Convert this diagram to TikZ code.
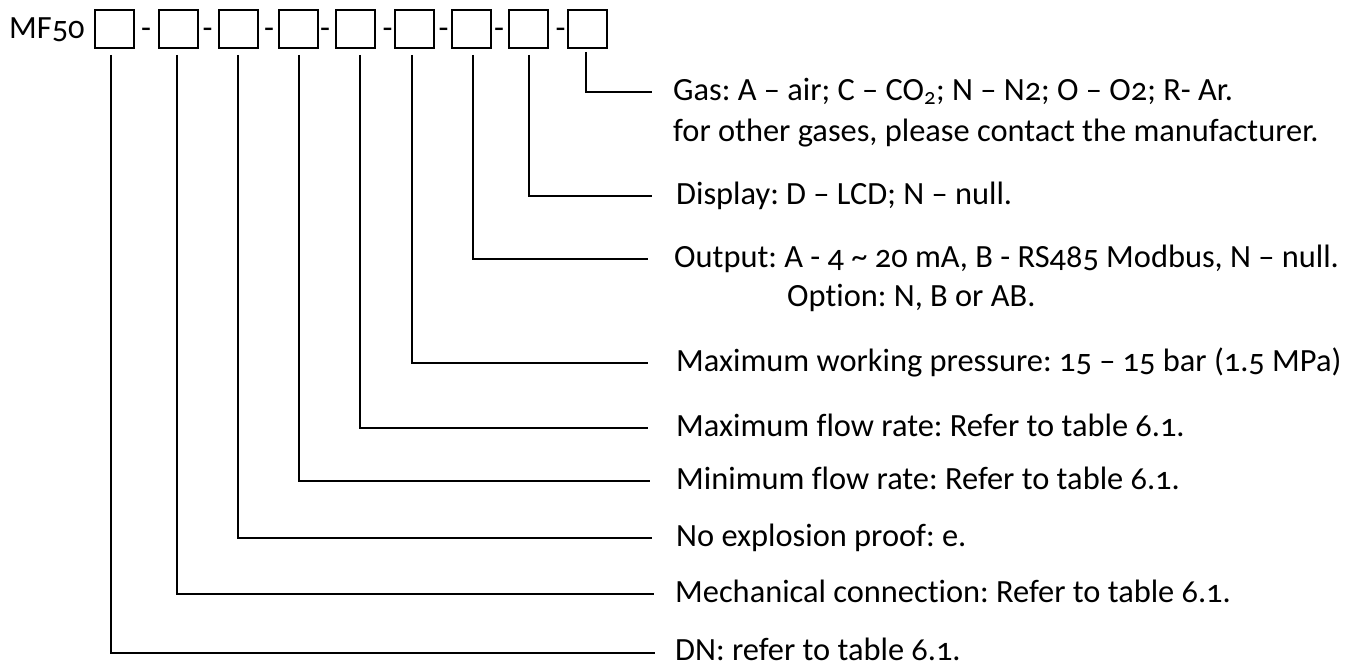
\documentclass[tikz,border=0pt]{standalone}
\usepackage{fontspec}
\setmainfont{Carlito}[Numbers=OldStyle,Ligatures=NoCommon]
\frenchspacing
\begin{document}
\begin{tikzpicture}[x=1pt,y=1pt,
  codebox/.style={draw=black,line width=2pt,minimum width=39pt,minimum height=38pt,inner sep=0pt},
  conn/.style={draw=black,line width=2pt},
  lbl/.style={anchor=base west,inner sep=0pt,font=\fontsize{32.4}{38}\selectfont},
  hyph/.style={anchor=base,inner sep=0pt,font=\fontsize{32.4}{38}\selectfont}]
\useasboundingbox (0,0) rectangle (1353,-666);
% code
\node[lbl] (mf) at (9,-39) {MF50};
\foreach \n/\x in {1/114.5,2/178.5,3/238,4/298.5,5/355,6/414,7/471,8/528,9/587}
  \node[codebox] (b\n) at (\x,-29) {};
\foreach \n/\x in {1/146,2/207.5,3/269,4/325,5/387.5,6/443.5,7/499,8/560.5}
  \node[hyph] (h\n) at (\x,-39) {-};
% connector start / end points
\foreach \n/\x/\y/\e/\s in {9/586/92/652/52,8/529/196/652/55,7/473/259/648/55,6/412/363/648/55,
  5/360/428/648/55,4/299/481/650/55,3/238/538/652/55,2/177/594/654/55,1/111/653/655/55}{
  \coordinate (s\n) at (\x,-\s);
  \coordinate (e\n) at (\e,-\y);
  \draw[conn] (s\n) |- (e\n);
}
% labels
\node[lbl] (t9) at (673,-100.5) {Gas: A – air; C – CO\textsubscript{2}; N – N2; O – O2; R- Ar.};
\node[lbl] (t9b) at (673,-142) {for other gases, please contact the manufacturer.};
\node[lbl] (t8) at (676,-204.5) {Display: D – LCD; N – null.};
\node[lbl] (t7) at (674,-267.5) {Output: A - 4 \textasciitilde{} 20 mA, B - RS485 Modbus, N – null.};
\node[lbl] (t7b) at (787,-306) {Option: N, B or AB.};
\node[lbl] (t6) at (676,-371.5) {Maximum working pressure: 15 – 15 bar (1.5 MPa)};
\node[lbl] (t5) at (676,-436.5) {Maximum flow rate: Refer to table 6.1.};
\node[lbl] (t4) at (676,-489.5) {Minimum flow rate: Refer to table 6.1.};
\node[lbl] (t3) at (676,-546.5) {No explosion proof: e.};
\node[lbl] (t2) at (675,-602.5) {Mechanical connection: Refer to table 6.1.};
\node[lbl] (t1) at (675,-660) {DN: refer to table 6.1.};
\end{tikzpicture}
\end{document}
